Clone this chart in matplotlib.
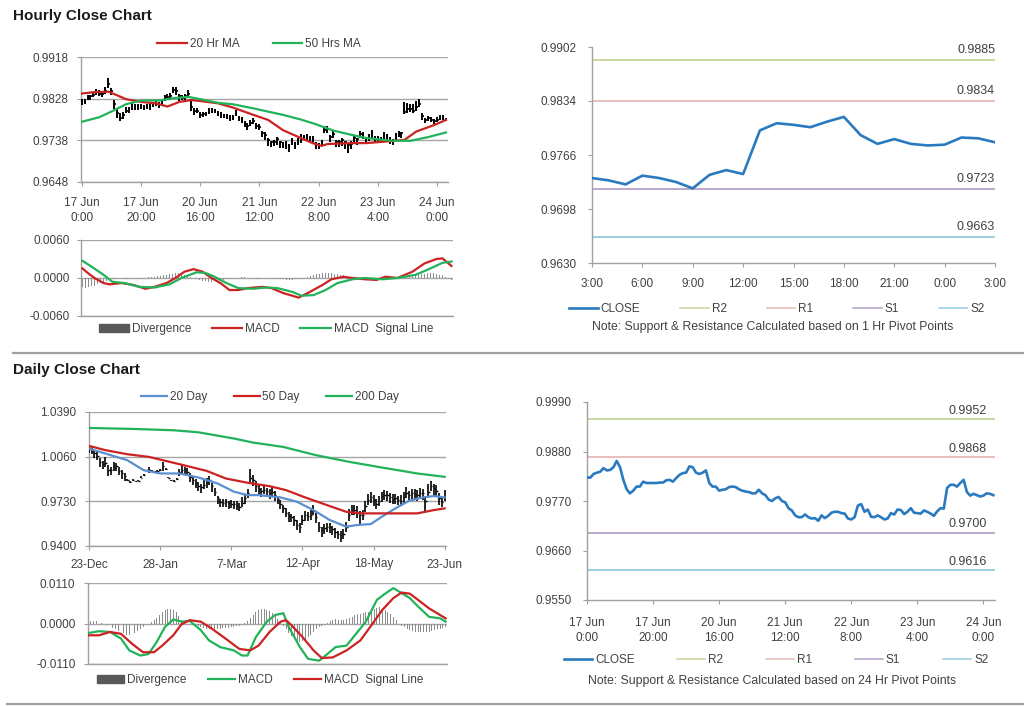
import matplotlib
matplotlib.use("Agg")
import matplotlib.pyplot as plt
from matplotlib.lines import Line2D
from matplotlib.patches import Patch

plt.rcParams['font.family'] = ['Liberation Sans', 'DejaVu Sans']

# ---------------- DATA ----------------
# Hourly closes (17 Jun 0:00 ... 24 Jun ~3:00), one per trading hour
h_close = [0.9822, 0.9822, 0.9830, 0.9833, 0.9835, 0.9843, 0.9838, 0.9839, 0.9845, 0.9859,
           0.9845, 0.9817, 0.9796, 0.9787, 0.9793, 0.9802, 0.9802, 0.9813, 0.9810, 0.9810,
           0.9810, 0.9810, 0.9811, 0.9811, 0.9816, 0.9817, 0.9813, 0.9821, 0.9828, 0.9832,
           0.9833, 0.9847, 0.9845, 0.9833, 0.9830, 0.9833, 0.9838, 0.9810, 0.9802, 0.9802,
           0.9793, 0.9795, 0.9796, 0.9801, 0.9802, 0.9801, 0.9796, 0.9793, 0.9791, 0.9790,
           0.9787, 0.9787, 0.9795, 0.9787, 0.9783, 0.9773, 0.9770, 0.9776, 0.9779, 0.9770,
           0.9767, 0.9754, 0.9749, 0.9738, 0.9734, 0.9734, 0.9740, 0.9734, 0.9731, 0.9732,
           0.9726, 0.9738, 0.9732, 0.9737, 0.9744, 0.9746, 0.9746, 0.9743, 0.9742, 0.9731,
           0.9729, 0.9734, 0.9760, 0.9763, 0.9746, 0.9751, 0.9735, 0.9734, 0.9738, 0.9734,
           0.9729, 0.9731, 0.9743, 0.9740, 0.9751, 0.9750, 0.9741, 0.9746, 0.9754, 0.9744,
           0.9743, 0.9742, 0.9749, 0.9746, 0.9742, 0.9737, 0.9747, 0.9754, 0.9753, 0.9799,
           0.9806, 0.9806, 0.9802, 0.9810, 0.9817, 0.9790, 0.9782, 0.9786, 0.9783, 0.9780,
           0.9782, 0.9787, 0.9786, 0.9783]
# bar extent above / below close, in pips (0.0001)
h_up = [6, 5, 7, 4, 6, 5, 8, 6, 9, 13, 7,
        8, 10, 9, 6, 7, 8, 5, 7, 6, 6,
        5, 6, 7, 5, 6, 8, 6, 7, 6, 8,
        7, 9, 6, 5, 6, 9, 12, 6, 5, 6,
        5, 4, 6, 5, 4, 5, 6, 4, 5, 6,
        5, 8, 4, 6, 7, 5, 6, 8, 5, 7,
        5, 6, 4, 3, 4, 6, 3, 4, 5, 4,
        6, 3, 5, 7, 4, 5, 4, 6, 3, 4,
        5, 8, 6, 4, 7, 3, 4, 6, 3, 4,
        5, 6, 4, 8, 5, 4, 6, 7, 4, 5,
        4, 6, 5, 4, 3, 6, 5, 4, 22, 12,
        10, 14, 12, 11, 6, 5, 4, 5, 4, 6,
        5, 6, 4]
h_dn = [8, 6, 5, 7, 4, 6, 5, 7, 6, 8, 9,
        12, 9, 7, 8, 6, 5, 9, 6, 7, 5,
        6, 5, 7, 6, 5, 6, 8, 5, 6, 7,
        6, 8, 9, 5, 7, 6, 8, 9, 6, 7,
        6, 5, 7, 6, 5, 6, 7, 5, 6, 7,
        6, 5, 7, 8, 6, 9, 7, 6, 8, 7,
        9, 10, 12, 10, 9, 11, 12, 10, 13, 14,
        10, 12, 9, 11, 8, 10, 9, 12, 11, 10,
        9, 7, 10, 12, 9, 11, 10, 12, 14, 18,
        12, 10, 11, 9, 10, 11, 9, 10, 12, 11,
        10, 9, 11, 12, 10, 9, 8, 9, 4, 8,
        7, 6, 8, 7, 9, 6, 7, 5, 6, 5,
        6, 5, 4]
h_tick_pos = [0, 20, 40, 60, 80, 100, 120]
h_tick_lab = ["17 Jun\n0:00", "17 Jun\n20:00", "20 Jun\n16:00", "21 Jun\n12:00",
              "22 Jun\n8:00", "23 Jun\n4:00", "24 Jun\n0:00"]

ma20_x = [0, 4, 9, 11, 15, 20, 25, 29, 33, 37, 40, 46, 51, 58, 63, 68, 74, 78, 81, 83,
          91, 96, 102, 109, 113, 119, 123]
ma20_y = [0.9839, 0.9842, 0.9843, 0.9838, 0.9827, 0.9821, 0.9818, 0.9811, 0.9821, 0.9825,
          0.9823, 0.9818, 0.9809, 0.9793, 0.9782, 0.9760, 0.9743, 0.9732, 0.9726, 0.9730,
          0.9732, 0.9732, 0.9735, 0.9739, 0.9757, 0.9771, 0.9782]
ma50_x = [0, 6, 11, 15, 20, 26, 31, 36, 40, 46, 51, 58, 63, 68, 74, 79, 85, 91, 96, 102,
          105, 111, 117, 123]
ma50_y = [0.9778, 0.9788, 0.9803, 0.9816, 0.9824, 0.9824, 0.9829, 0.9832, 0.9827, 0.9819,
          0.9816, 0.9807, 0.9800, 0.9793, 0.9783, 0.9773, 0.9759, 0.9750, 0.9743, 0.9739,
          0.9737, 0.9737, 0.9745, 0.9755]

macd_h_x = [0, 2, 4, 7, 9, 13, 17, 21, 24, 28, 31, 34, 37, 40, 43, 46, 49, 52, 55, 60,
            63, 67, 70, 72, 75, 80, 83, 87, 90, 94, 98, 101, 105, 110, 114, 118, 120, 122, 123]
macd_h_y = [0.0015, 0.0007, 0.0000, -0.0008, -0.0010, -0.0008, -0.0011, -0.0017, -0.0014, -0.0008,
            0.0000, 0.0010, 0.0014, 0.0010, 0.0000, -0.0008, -0.0019, -0.0019, -0.0016, -0.0014,
            -0.0016, -0.0024, -0.0028, -0.0031, -0.0024, -0.0011, -0.0002, 0.0002, 0.0000, -0.0002,
            -0.0003, 0.0002, 0.0000, 0.0010, 0.0023, 0.0030, 0.0031, 0.0023, 0.0019]
sig_h_x = [0, 3, 7, 10, 14, 19, 24, 29, 33, 38, 41, 44, 48, 52, 57, 61, 65, 70, 73, 77,
           81, 85, 90, 94, 100, 105, 111, 115, 120, 123]
sig_h_y = [0.0027, 0.0018, 0.0005, -0.0006, -0.0008, -0.0014, -0.0015, -0.0010, 0.0000, 0.0009,
           0.0008, 0.0002, -0.0008, -0.0016, -0.0017, -0.0015, -0.0016, -0.0022, -0.0028, -0.0027,
           -0.0019, -0.0008, -0.0002, 0.0000, -0.0002, 0.0000, 0.0005, 0.0013, 0.0024, 0.0026]
# hourly divergence, units of 0.0001
div_h = [-14, -15, -14, -13, -12, -10, -8, -6, -4,
         -2, -1, -1, 0, 0, -1, -1, 0, -1, -1, -1, -1,
         0, 1, 1, 2, 3, 3, 4, 5, 6, 7, 8, 8, 7, 5,
         3, 1, 0, -2, -3,
         -4, -5, -6, -6, -5, -4, -3, -3, -2, -2, -1,
         0, 0, 1, 1, 0, 0, 0, -1, -1, 0, 0, 0, -1, -1, -1,
         -2, -2, -3, -3, -3, -2, -2, -1, 0, 1,
         3, 4, 6, 7, 8, 8, 8, 8, 7, 6, 5, 4, 3,
         2, 1, 1, 0, 0, 0, -1, -1, 0, 0, 0, 0, 0, 1, 1, 0, 0, 0, 0,
         1, 2, 3, 4, 5, 6, 7, 8, 8, 8, 7,
         5, 4, 2, -1, -3]

# 1-Hr pivot chart
pv_close = [0.9737, 0.9734, 0.9729, 0.9740, 0.9737, 0.9732, 0.9724, 0.9741, 0.9747, 0.9742,
            0.9797, 0.9806, 0.9804, 0.9801, 0.9808, 0.9814, 0.9791, 0.9780, 0.9786, 0.9780,
            0.9778, 0.9779, 0.9788, 0.9787, 0.9782]
pv_tick_pos = [0, 3, 6, 9, 12, 15, 18, 21, 24]
pv_tick_lab = ["3:00", "6:00", "9:00", "12:00", "15:00", "18:00", "21:00", "0:00", "3:00"]
pv_levels = {"R2": 0.9885, "R1": 0.9834, "S1": 0.9723, "S2": 0.9663}

# 24-Hr pivot levels
dpv_levels = {"R2": 0.9952, "R1": 0.9868, "S1": 0.9700, "S2": 0.9616}

# Daily closes (23-Dec ... 23-Jun)
d_close = [1.0120, 1.0103, 1.0088, 1.0063, 1.0022, 1.0004, 1.0014, 0.9965, 0.9960, 0.9985,
           0.9990, 0.9955, 0.9936, 0.9916, 0.9887, 0.9874, 0.9887, 0.9877, 0.9882, 0.9906,
           0.9923, 0.9960, 0.9965, 0.9955, 0.9946, 0.9955, 0.9960, 0.9990, 0.9970, 0.9905,
           0.9885, 0.9880, 0.9895, 0.9946, 0.9960, 0.9965, 0.9946, 0.9911, 0.9887, 0.9862,
           0.9842, 0.9833, 0.9850, 0.9867, 0.9887, 0.9842, 0.9801, 0.9751, 0.9724, 0.9715,
           0.9724, 0.9715, 0.9710, 0.9710, 0.9695, 0.9690, 0.9720, 0.9751, 0.9788, 0.9899,
           0.9887, 0.9842, 0.9818, 0.9803, 0.9813, 0.9803, 0.9788, 0.9798, 0.9774, 0.9744,
           0.9710, 0.9678, 0.9646, 0.9621, 0.9611, 0.9592, 0.9557, 0.9543, 0.9592, 0.9626,
           0.9621, 0.9631, 0.9661, 0.9616, 0.9543, 0.9518, 0.9530, 0.9538, 0.9543, 0.9523,
           0.9506, 0.9489, 0.9479, 0.9489, 0.9543, 0.9629, 0.9661, 0.9666, 0.9653, 0.9629,
           0.9629, 0.9695, 0.9739, 0.9759, 0.9739, 0.9710, 0.9734, 0.9769, 0.9776, 0.9774,
           0.9764, 0.9744, 0.9751, 0.9739, 0.9734, 0.9764, 0.9788, 0.9776, 0.9788, 0.9783,
           0.9776, 0.9788, 0.9788, 0.9735, 0.9801, 0.9842, 0.9825, 0.9808, 0.9751, 0.9727,
           0.9764]
d_up = [25, 30, 20, 35, 28, 22, 40, 30, 25, 35,
        20, 30, 25, 20, 8, 5, 6, 5, 4, 8,
        6, 5, 20, 6, 5, 4, 6, 30, 8, 6,
        5, 4, 6, 25, 35, 20, 30, 25, 20, 35,
        30, 25, 40, 35, 30, 20, 25, 20, 25, 30,
        25, 20, 30, 25, 35, 30, 40, 35, 30, 73,
        40, 35, 30, 25, 30, 25, 30, 35, 30, 25,
        30, 25, 35, 30, 25, 30, 35, 30, 40, 35,
        30, 35, 40, 30, 35, 25, 30, 35, 30, 25,
        30, 25, 30, 40, 35, 45, 40, 35, 40, 30,
        40, 35, 45, 40, 35, 40, 35, 30, 40, 35,
        30, 40, 35, 30, 40, 35, 45, 30, 35, 40,
        35, 40, 30, 30, 57, 40, 35, 45, 40, 35,
        50]
d_dn = [30, 25, 35, 30, 40, 35, 30, 45, 35, 30,
        35, 30, 40, 35, 6, 5, 8, 6, 5, 6,
        5, 6, 25, 5, 6, 5, 4, 35, 6, 5,
        6, 5, 5, 30, 25, 35, 30, 35, 40, 30,
        35, 40, 30, 35, 40, 45, 35, 40, 35, 30,
        35, 40, 30, 35, 30, 35, 30, 40, 35, 30,
        45, 40, 35, 40, 30, 35, 40, 35, 40, 35,
        40, 35, 30, 40, 35, 45, 40, 50, 35, 40,
        35, 40, 35, 45, 40, 50, 40, 35, 45, 40,
        45, 40, 50, 35, 40, 45, 35, 40, 45, 70,
        40, 45, 35, 40, 45, 35, 40, 45, 35, 40,
        45, 35, 40, 35, 40, 45, 35, 40, 45, 35,
        40, 35, 45, 80, 40, 35, 45, 40, 50, 40,
        35]
d_tick_pos = [0, 26, 52, 78, 104, 130]
d_tick_lab = ["23-Dec", "28-Jan", "7-Mar", "12-Apr", "18-May", "23-Jun"]

dma20_x = [0, 6, 14, 20, 26, 33, 40, 47, 53, 58, 62, 70, 76, 82, 88, 94, 98, 103, 107, 112,
           117, 122, 126, 130]
dma20_y = [1.0120, 1.0083, 1.0034, 0.9960, 0.9936, 0.9936, 0.9906, 0.9862, 0.9801, 0.9776,
           0.9776, 0.9759, 0.9727, 0.9666, 0.9592, 0.9543, 0.9555, 0.9562, 0.9616, 0.9678,
           0.9734, 0.9759, 0.9769, 0.9759]
dma50_x = [0, 6, 14, 22, 28, 36, 43, 50, 58, 66, 72, 79, 87, 94, 99, 106, 114, 120, 126, 130]
dma50_y = [1.0140, 1.0108, 1.0078, 1.0058, 1.0029, 0.9990, 0.9955, 0.9899, 0.9867, 0.9842,
           0.9813, 0.9759, 0.9702, 0.9653, 0.9641, 0.9641, 0.9641, 0.9641, 0.9665, 0.9678]
dma200_x = [0, 16, 31, 40, 53, 60, 71, 83, 95, 107, 120, 130]
dma200_y = [1.0272, 1.0265, 1.0255, 1.0240, 1.0194, 1.0164, 1.0132, 1.0071, 1.0022, 0.9980,
            0.9936, 0.9911]

dmacd_x = [0, 4, 8, 12, 15, 19, 22, 25, 28, 31, 34, 37, 41, 44, 48, 53, 56, 58, 61, 65,
           68, 71, 73, 77, 80, 84, 87, 90, 94, 97, 101, 105, 108, 111, 113, 117, 120, 124, 128, 130]
dmacd_y = [-0.0026, -0.0021, -0.0023, -0.0041, -0.0073, -0.0087, -0.0083, -0.0050, -0.0009, 0.0011,
           0.0005, 0.0007, -0.0018, -0.0046, -0.0064, -0.0073, -0.0087, -0.0087, -0.0037, 0.0005,
           0.0023, 0.0028, -0.0010, -0.0064, -0.0096, -0.0101, -0.0083, -0.0064, -0.0060, -0.0032,
           0.0005, 0.0064, 0.0081, 0.0096, 0.0087, 0.0069, 0.0046, 0.0018, 0.0014, 0.0005]
dsig_x = [0, 4, 8, 12, 16, 20, 24, 27, 31, 34, 37, 41, 45, 50, 55, 59, 62, 66, 70, 72,
          74, 78, 82, 85, 89, 94, 99, 103, 107, 111, 114, 117, 120, 124, 128, 130]
dsig_y = [-0.0032, -0.0032, -0.0023, -0.0028, -0.0055, -0.0078, -0.0078, -0.0060, -0.0032, -0.0002,
          0.0009, 0.0005, -0.0014, -0.0041, -0.0069, -0.0073, -0.0060, -0.0023, 0.0005, 0.0009,
          -0.0005, -0.0037, -0.0073, -0.0094, -0.0092, -0.0073, -0.0046, -0.0005, 0.0037, 0.0069,
          0.0084, 0.0081, 0.0064, 0.0041, 0.0023, 0.0014]
# daily divergence, units of 0.0001
div_d = [7, 8, 8, 7, 5, 2,
         -1, -4, -8, -12, -16, -20, -24, -27, -30, -30, -28, -25, -21, -16, -10, -5,
         0, 4, 9, 15, 22, 30, 36, 40, 40, 37, 30, 20, 10,
         2, 0, -2, -4, -6, -8, -10, -12, -14, -15, -16, -16, -15, -14, -13, -12, -11, -10, -9, -8, -6, -3,
         2, 8, 15, 22, 30, 36, 40, 40, 38, 34, 28, 20, 12, 4,
         -6, -15, -25, -35, -42, -48, -50, -48, -44, -38, -30, -22, -15, -10, -6, -3,
         2, 6, 10, 12, 10, 9, 10, 12, 14, 18, 22, 25, 26, 28, 30, 32, 36, 40, 43, 45, 42, 38, 32, 25, 18, 10,
         -2, -6, -10, -14, -17, -20, -22, -23, -24, -24, -23, -22, -20, -18, -16, -14, -12, -10]

# ---------------- STYLE ----------------
RED = "#cc2222"
GREEN = "#22b35a"
BLUE20 = "#5b8fd0"
CLOSE_C = "#2a7ac0"
LEV_C = {"R2": "#c3d69b", "R1": "#e6b9b8", "S1": "#b3a2c7", "S2": "#93cddd"}
SPINE = "#a0a0a0"
GRID = "#a6a6a6"
TXT = "#404040"
DIVC = "#8c8c8c"
FS = 8.5

W, H = 1024, 706
fig = plt.figure(figsize=(W / 100, H / 100), dpi=100)


def box(l, t, r, b):
    return [l / W, 1 - b / H, (r - l) / W, (b - t) / H]


def style(ax, ypad=6, xpad=6):
    for s in ("top", "right"):
        ax.spines[s].set_visible(False)
    for s in ("left", "bottom"):
        ax.spines[s].set_color(SPINE)
        ax.spines[s].set_linewidth(1.0)
    ax.tick_params(axis="both", colors=SPINE, labelcolor=TXT, labelsize=FS,
                   length=3, width=0.8, direction="out")
    ax.tick_params(axis="y", pad=ypad)
    ax.tick_params(axis="x", pad=xpad)


def fig_legend(handles, labels, cx, cy, ncol, colsp, hl=2.6):
    fig.legend(handles, labels, loc="center", bbox_to_anchor=(cx / W, 1 - cy / H),
               ncol=ncol, frameon=False, fontsize=FS, columnspacing=colsp,
               handlelength=hl, handletextpad=0.25, labelcolor=TXT, borderpad=0)


# titles and separators
fig.text(13 / W, 1 - 16 / H, "Hourly Close Chart", fontsize=11, fontweight="bold",
         color="#1a1a1a", va="center", ha="left")
fig.text(13 / W, 1 - 370 / H, "Daily Close Chart", fontsize=11, fontweight="bold",
         color="#1a1a1a", va="center", ha="left")
fig.add_artist(Line2D([13 / W, 1.0], [1 - 353 / H, 1 - 353 / H], color=SPINE, lw=1.6))
fig.add_artist(Line2D([7 / W, 1.0], [1 - 704 / H, 1 - 704 / H], color=SPINE, lw=1.6))

# ---------- Hourly price ----------
ax1 = fig.add_axes(box(81, 57, 448, 182))
style(ax1, ypad=6, xpad=8)
hx = list(range(len(h_close)))
hi = [c + u * 0.0001 for c, u in zip(h_close, h_up)]
lo = [c - d * 0.0001 for c, d in zip(h_close, h_dn)]
ax1.vlines(hx, lo, hi, color="black", lw=1.4, zorder=3)
ax1.hlines(h_close, [x for x in hx], [x + 0.5 for x in hx], color="black", lw=1.2, zorder=3)
ax1.plot(ma20_x, ma20_y, color=RED, lw=1.6, zorder=4)
ax1.plot(ma50_x, ma50_y, color=GREEN, lw=1.6, zorder=4)
ax1.set_ylim(0.9648, 0.9918)
ax1.set_yticks([0.9648, 0.9738, 0.9828, 0.9918])
ax1.set_yticklabels(["0.9648", "0.9738", "0.9828", "0.9918"])
ax1.set_xlim(-0.2, 123.7)
ax1.set_xticks(h_tick_pos)
ax1.set_xticklabels(h_tick_lab, linespacing=1.3)
ax1.yaxis.grid(True, color=GRID, lw=1.0)
ax1.set_axisbelow(True)
fig_legend([Line2D([], [], color=RED, lw=1.6), Line2D([], [], color=GREEN, lw=1.6)],
           ["20 Hr MA", "50 Hrs MA"], 259, 44, 2, 2.8, hl=2.5)

# ---------- Hourly MACD ----------
ax2 = fig.add_axes(box(81, 240, 453, 316))
style(ax2, ypad=5)
ax2.bar(range(len(div_h)), [v * 0.0001 for v in div_h], width=0.35, color=DIVC, zorder=2)
ax2.plot(macd_h_x, macd_h_y, color=RED, lw=1.6, zorder=4)
ax2.plot(sig_h_x, sig_h_y, color=GREEN, lw=1.6, zorder=4)
ax2.set_ylim(-0.006, 0.006)
ax2.set_yticks([-0.006, 0.0, 0.006])
ax2.set_yticklabels(["-0.0060", "0.0000", "0.0060"])
ax2.set_xlim(-0.5, 123.5)
ax2.set_xticks([])
ax2.yaxis.grid(True, color=GRID, lw=1.0)
ax2.set_axisbelow(True)
fig_legend([Patch(color="#595959"), Line2D([], [], color=RED, lw=1.6),
            Line2D([], [], color=GREEN, lw=1.6)],
           ["Divergence", "MACD", "MACD  Signal Line"], 266, 329, 3, 1.7, hl=2.6)

# ---------- Hourly pivot ----------
ax3 = fig.add_axes(box(592, 47, 995, 263))
style(ax3, ypad=8, xpad=8)
for k in ("R2", "R1", "S1", "S2"):
    ax3.axhline(pv_levels[k], color=LEV_C[k], lw=1.3, zorder=2)
    ax3.annotate(f"{pv_levels[k]:.4f}", xy=(1.0, pv_levels[k]),
                 xycoords=("axes fraction", "data"), xytext=(0, 3),
                 textcoords="offset points", ha="right", va="bottom",
                 fontsize=9, color=TXT)
ax3.plot(range(len(pv_close)), pv_close, color=CLOSE_C, lw=1.9, zorder=4)
ax3.set_ylim(0.9630, 0.9902)
ax3.set_yticks([0.9630, 0.9698, 0.9766, 0.9834, 0.9902])
ax3.set_yticklabels(["0.9630", "0.9698", "0.9766", "0.9834", "0.9902"])
ax3.set_xlim(0, 24)
ax3.set_xticks(pv_tick_pos)
ax3.set_xticklabels(pv_tick_lab)
lev_handles = [Line2D([], [], color=CLOSE_C, lw=1.9)] + \
              [Line2D([], [], color=LEV_C[k], lw=1.1) for k in ("R2", "R1", "S1", "S2")]
fig_legend(lev_handles, ["CLOSE", "R2", "R1", "S1", "S2"], 777, 309, 5, 3.4, hl=2.4)
fig.text(773 / W, 1 - 327 / H, "Note: Support & Resistance Calculated based on 1 Hr Pivot Points",
         ha="center", va="center", fontsize=8.8, color=TXT)

# ---------- Daily price ----------
ax4 = fig.add_axes(box(89, 412, 446, 546))
style(ax4, ypad=6, xpad=6)
dx = list(range(len(d_close)))
dhi = [c + u * 0.0001 for c, u in zip(d_close, d_up)]
dlo = [c - d * 0.0001 for c, d in zip(d_close, d_dn)]
ax4.vlines(dx, dlo, dhi, color="black", lw=1.2, zorder=3)
ax4.hlines(d_close, dx, [x + 0.5 for x in dx], color="black", lw=1.0, zorder=3)
ax4.plot(dma20_x, dma20_y, color=BLUE20, lw=1.6, zorder=4)
ax4.plot(dma50_x, dma50_y, color=RED, lw=1.6, zorder=4)
ax4.plot(dma200_x, dma200_y, color=GREEN, lw=1.6, zorder=4)
ax4.set_ylim(0.9400, 1.0390)
ax4.set_yticks([0.9400, 0.9730, 1.0060, 1.0390])
ax4.set_yticklabels(["0.9400", "0.9730", "1.0060", "1.0390"])
ax4.set_xlim(0, 130.5)
ax4.set_xticks(d_tick_pos)
ax4.set_xticklabels(d_tick_lab)
ax4.yaxis.grid(True, color=GRID, lw=1.0)
ax4.set_axisbelow(True)
fig_legend([Line2D([], [], color=BLUE20, lw=1.6), Line2D([], [], color=RED, lw=1.6),
            Line2D([], [], color=GREEN, lw=1.6)],
           ["20 Day", "50 Day", "200 Day"], 270, 397, 3, 2.2, hl=2.2)

# ---------- Daily MACD ----------
ax5 = fig.add_axes(box(88, 583, 447, 664))
style(ax5, ypad=6)
ax5.bar(range(len(div_d)), [v * 0.0001 for v in div_d], width=0.35, color=DIVC, zorder=2)
ax5.plot(dmacd_x, dmacd_y, color=GREEN, lw=1.6, zorder=4)
ax5.plot(dsig_x, dsig_y, color=RED, lw=1.6, zorder=4)
ax5.set_ylim(-0.011, 0.011)
ax5.set_yticks([-0.011, 0.0, 0.011])
ax5.set_yticklabels(["-0.0110", "0.0000", "0.0110"])
ax5.set_xlim(0, 130.5)
ax5.set_xticks([])
ax5.yaxis.grid(True, color=GRID, lw=1.0)
ax5.set_axisbelow(True)
fig_legend([Patch(color="#595959"), Line2D([], [], color=GREEN, lw=1.6),
            Line2D([], [], color=RED, lw=1.6)],
           ["Divergence", "MACD", "MACD  Signal Line"], 260, 680, 3, 1.8, hl=2.3)

# ---------- Daily pivot (hourly closes vs 24h pivots) ----------
ax6 = fig.add_axes(box(587, 402, 995, 600))
style(ax6, ypad=8, xpad=9)
for k in ("R2", "R1", "S1", "S2"):
    ax6.axhline(dpv_levels[k], color=LEV_C[k], lw=1.3, zorder=2)
    ax6.annotate(f"{dpv_levels[k]:.4f}", xy=(1.0, dpv_levels[k]),
                 xycoords=("axes fraction", "data"), xytext=(-6, 1.5),
                 textcoords="offset points", ha="right", va="bottom",
                 fontsize=9, color=TXT)
ax6.plot(hx, h_close, color=CLOSE_C, lw=1.9, zorder=4)
ax6.set_ylim(0.9550, 0.9990)
ax6.set_yticks([0.9550, 0.9660, 0.9770, 0.9880, 0.9990])
ax6.set_yticklabels(["0.9550", "0.9660", "0.9770", "0.9880", "0.9990"])
ax6.set_xlim(0, 123.5)
ax6.set_xticks(h_tick_pos)
ax6.set_xticklabels(h_tick_lab, linespacing=1.35)
fig_legend(lev_handles, ["CLOSE", "R2", "R1", "S1", "S2"], 776, 660, 5, 3.6, hl=2.4)
fig.text(772 / W, 1 - 681 / H, "Note: Support & Resistance Calculated based on 24 Hr Pivot Points",
         ha="center", va="center", fontsize=8.8, color=TXT)

fig.savefig("out.png", dpi=100)
